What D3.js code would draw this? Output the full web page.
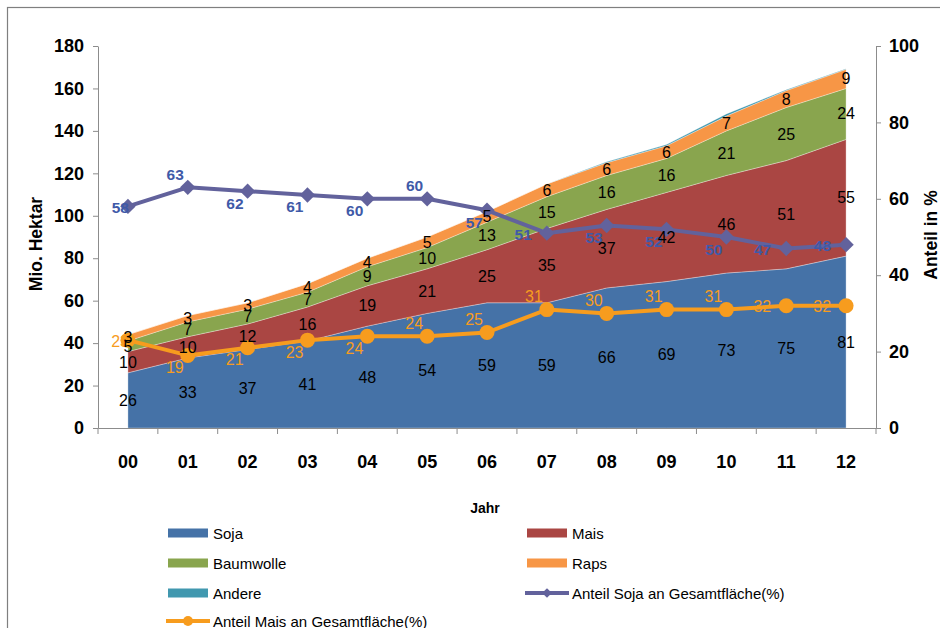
<!DOCTYPE html>
<html>
<head>
<meta charset="utf-8">
<script src="https://cdn.jsdelivr.net/npm/d3@7/dist/d3.min.js"></script>
<style>
  html, body { margin: 0; padding: 0; background: #fff; }
  svg { display: block; font-family: "Liberation Sans", Arial, sans-serif; }
</style>
</head>
<body>
<svg id="chart" width="940" height="628"></svg>
<script>
// Jahre (2000–2012)
const years = ["00", "01", "02", "03", "04", "05", "06", "07", "08", "09", "10", "11", "12"];

// Anbauflächen in Mio. Hektar
const soja      = [26, 33, 37, 41, 48, 54, 59, 59, 66, 69, 73, 75, 81];
const mais      = [10, 10, 12, 16, 19, 21, 25, 35, 37, 42, 46, 51, 55];
const baumwolle = [5, 7, 7, 7, 9, 10, 13, 15, 16, 16, 21, 25, 24];
const raps      = [3, 3, 3, 4, 4, 5, 5, 6, 6, 6, 7, 8, 9];
const andere    = [0, 0, 0, 0, 0, 0, 0, 0, 0.4, 0.6, 1, 0.4, 0.3];

// Anteile an der Gesamtfläche in %
const anteilSoja = [58, 63, 62, 61, 60, 60, 57, 51, 53, 52, 50, 47, 48];
const anteilMais = [23, 19, 21, 23, 24, 24, 25, 31, 30, 31, 31, 32, 32];

// Achsenbeschriftungen
const leftTicks  = [0, 20, 40, 60, 80, 100, 120, 140, 160, 180];
const rightTicks = [0, 20, 40, 60, 80, 100];

// Platzierung der Wertbeschriftungen der Linien (c = auf dem Punkt, a = oben, b = unten, l = links)
const sojaLabelPlace = ["c", "a", "b", "b", "b", "a", "b", "l", "b", "b", "b", "l", "l"];
const maisLabelPlace = ["c", "b", "b", "b", "b", "a", "a", "a", "a", "a", "a", "l", "l"];

const seriesNames  = ["Soja", "Mais", "Baumwolle", "Raps", "Andere"];
const seriesColors = ["#4572A7", "#AA4643", "#89A54E", "#F79646", "#4198AF"];
const sojaLineColor = "#62629C";
const sojaLabelColor = "#3F5AA8";
const maisLineColor = "#F79C1E";

const rows = years.map((y, i) => ({
  year: y, Soja: soja[i], Mais: mais[i], Baumwolle: baumwolle[i], Raps: raps[i], Andere: andere[i]
}));

const svg = d3.select("#chart");

// Rahmen
svg.append("rect")
  .attr("x", 7.5).attr("y", 7.5).attr("width", 960).attr("height", 660)
  .attr("fill", "none").attr("stroke", "#7f7f7f").attr("stroke-width", 1.2);

const x = d3.scaleBand().domain(years).range([98, 876]);
const cx = d => x(d) + x.bandwidth() / 2;
const yL = d3.scaleLinear().domain([0, 180]).range([428, 46]);
const yR = d3.scaleLinear().domain([0, 100]).range([428, 46]);

// Gestapelte Flächen
const stack = d3.stack().keys(seriesNames);
const layers = stack(rows);
const area = d3.area()
  .x((d, i) => cx(years[i]))
  .y0(d => yL(d[0]))
  .y1(d => yL(d[1]));

svg.append("g").selectAll("path")
  .data(layers)
  .join("path")
  .attr("d", area)
  .attr("fill", (d, i) => seriesColors[i])
  .attr("stroke", "rgba(255,255,255,0.45)")
  .attr("stroke-width", 0.7);

// Achsen
const axisColor = "#8c8c8c";
const gL = svg.append("g").attr("transform", "translate(98,0)")
  .call(d3.axisLeft(yL).tickValues(leftTicks).tickSize(5).tickPadding(9).tickSizeOuter(0));
const gR = svg.append("g").attr("transform", "translate(876,0)")
  .call(d3.axisRight(yR).tickValues(rightTicks).tickSize(5).tickPadding(8).tickSizeOuter(0));
const gX = svg.append("g").attr("transform", "translate(0,428)")
  .call(d3.axisBottom(x).tickSize(0).tickPadding(27).tickSizeOuter(0));

[gL, gR, gX].forEach(g => {
  g.selectAll("path, line").attr("stroke", axisColor);
  g.selectAll("text").attr("fill", "#000").attr("font-size", 18).attr("font-weight", "bold")
    .attr("font-family", "Liberation Sans, Arial, sans-serif");
});

// Teilstriche der Kategorienachse an den Bandgrenzen
const bounds = years.map(d => x(d)).concat([x.range()[1]]);
gX.selectAll("line.bound")
  .data(bounds)
  .join("line")
  .attr("class", "bound")
  .attr("x1", d => d).attr("x2", d => d)
  .attr("y1", 0).attr("y2", 6)
  .attr("stroke", axisColor);

// Achsentitel
svg.append("text")
  .attr("transform", "translate(36,244) rotate(-90)")
  .attr("text-anchor", "middle").attr("dominant-baseline", "central")
  .attr("font-size", 17.5).attr("font-weight", "bold")
  .text("Mio. Hektar");
svg.append("text")
  .attr("transform", "translate(931,235) rotate(-90)")
  .attr("text-anchor", "middle").attr("dominant-baseline", "central")
  .attr("font-size", 17.5).attr("font-weight", "bold")
  .text("Anteil in %");
svg.append("text")
  .attr("x", 485).attr("y", 508)
  .attr("text-anchor", "middle").attr("dominant-baseline", "central")
  .attr("font-size", 14).attr("font-weight", "bold")
  .text("Jahr");

// Linie: Anteil Soja
const lineSoja = d3.line().x((d, i) => cx(years[i])).y(d => yR(d));
svg.append("path")
  .attr("d", lineSoja(anteilSoja))
  .attr("fill", "none").attr("stroke", sojaLineColor).attr("stroke-width", 4)
  .attr("stroke-linejoin", "round");
const diamond = d3.symbol().type(d3.symbolDiamond2).size(150);
svg.append("g").selectAll("path")
  .data(anteilSoja)
  .join("path")
  .attr("transform", (d, i) => `translate(${cx(years[i])},${yR(d)})`)
  .attr("d", diamond)
  .attr("fill", sojaLineColor);

// Linie: Anteil Mais
svg.append("path")
  .attr("d", lineSoja(anteilMais))
  .attr("fill", "none").attr("stroke", maisLineColor).attr("stroke-width", 4)
  .attr("stroke-linejoin", "round");
svg.append("g").selectAll("circle")
  .data(anteilMais)
  .join("circle")
  .attr("cx", (d, i) => cx(years[i]))
  .attr("cy", d => yR(d))
  .attr("r", 7.5)
  .attr("fill", maisLineColor);

// Wertbeschriftungen der Linien
function placeLabel(sel, values, place) {
  sel.attr("x", (d, i) => {
      const p = place[i];
      const px = cx(years[i]);
      if (p === "c") return px + 1;
      if (p === "l") return px - 15;
      return px - 4;
    })
    .attr("y", (d, i) => {
      const p = place[i];
      const py = yR(values[i]);
      if (p === "a") return py - 13;
      if (p === "b") return py + 12;
      return py + 1;
    });
}
const sojaLbl = svg.append("g").selectAll("text")
  .data(anteilSoja)
  .join("text")
  .attr("text-anchor", "end").attr("dominant-baseline", "central")
  .attr("font-size", 15.5).attr("font-weight", "bold").attr("fill", sojaLabelColor)
  .text(d => d);
placeLabel(sojaLbl, anteilSoja, sojaLabelPlace);

const maisLbl = svg.append("g").selectAll("text")
  .data(anteilMais)
  .join("text")
  .attr("text-anchor", "end").attr("dominant-baseline", "central")
  .attr("font-size", 16).attr("fill", maisLineColor)
  .text(d => d);
placeLabel(maisLbl, anteilMais, maisLabelPlace);

// Wertbeschriftungen der Flächen (ohne "Andere")
const labelLayers = layers.filter(l => l.key !== "Andere");
const lg = svg.append("g");
labelLayers.forEach(layer => {
  lg.selectAll(null)
    .data(layer)
    .join("text")
    .attr("x", (d, i) => cx(years[i]))
    .attr("y", d => yL((d[0] + d[1]) / 2))
    .attr("text-anchor", "middle").attr("dominant-baseline", "central")
    .attr("font-size", 16).attr("fill", "#000")
    .text(d => d.data[layer.key]);
});

// Legende
const legendItems = [
  { name: "Soja", type: "area", color: seriesColors[0], col: 0, row: 0 },
  { name: "Mais", type: "area", color: seriesColors[1], col: 1, row: 0 },
  { name: "Baumwolle", type: "area", color: seriesColors[2], col: 0, row: 1 },
  { name: "Raps", type: "area", color: seriesColors[3], col: 1, row: 1 },
  { name: "Andere", type: "area", color: seriesColors[4], col: 0, row: 2 },
  { name: "Anteil Soja an Gesamtfläche(%)", type: "diamond", color: sojaLineColor, col: 1, row: 2 },
  { name: "Anteil Mais an Gesamtfläche(%)", type: "circle", color: maisLineColor, col: 0, row: 3 }
];
const colX = [168, 527];
const rowY = [533, 563, 593, 621];
const leg = svg.append("g").selectAll("g")
  .data(legendItems)
  .join("g")
  .attr("transform", d => `translate(${colX[d.col]},${rowY[d.row]})`);
leg.filter(d => d.type === "area").append("rect")
  .attr("x", 0).attr("y", -4.5).attr("width", 40).attr("height", 9)
  .attr("fill", d => d.color);
leg.filter(d => d.type !== "area").append("line")
  .attr("x1", -2).attr("x2", 42).attr("y1", 0).attr("y2", 0)
  .attr("stroke", d => d.color).attr("stroke-width", 4);
leg.filter(d => d.type === "diamond").append("path")
  .attr("transform", "translate(20,0)")
  .attr("d", d3.symbol().type(d3.symbolDiamond2).size(60))
  .attr("fill", d => d.color);
leg.filter(d => d.type === "circle").append("circle")
  .attr("cx", 20).attr("cy", 0).attr("r", 5)
  .attr("fill", d => d.color);
leg.append("text")
  .attr("x", 45).attr("y", 0).attr("dominant-baseline", "central")
  .attr("font-size", 15).attr("fill", "#000")
  .text(d => d.name);
</script>
</body>
</html>
